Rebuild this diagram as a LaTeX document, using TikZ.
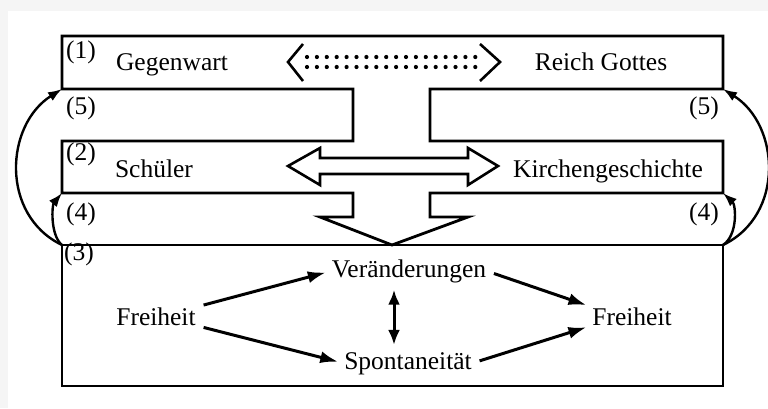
\documentclass[tikz,border=0pt]{standalone}
\usepackage{fontspec}
\setmainfont{Liberation Serif}
\usetikzlibrary{positioning,shapes,arrows.meta}

\begin{document}
\begin{tikzpicture}[x=1pt, y=-1pt, font=\fontsize{25.5}{30}\selectfont,
    txt/.style={inner sep=0pt, anchor=base},
    num/.style={inner sep=0pt, anchor=base west},
    numr/.style={inner sep=0pt, anchor=base east},
    frame/.style={line width=2.8pt, line join=miter},
    loop/.style={-{Latex[length=14pt,width=10pt]}, line width=2.4pt},
    rel/.style={-{Latex[length=18pt,width=12pt]}, line width=3pt, shorten <=8pt, shorten >=6pt},
    dots/.style={line width=4.2pt, line cap=round, dash pattern=on 0pt off 9.9pt}]
    \useasboundingbox (0,0) rectangle (768,408);
    \fill[gray!8] (0,0) rectangle (768,408);
    \fill[white] (8,11) rectangle (768,408);

    % the stacked bands (1), (5), (2), (4) with the channel and the down arrow
    \draw[frame] (62,36) -- (723,36) -- (723,89) -- (430,89) -- (430,141) -- (723,141)
        -- (723,193) -- (430,193) -- (430,217) -- (468,217) -- (392,245) -- (320,217)
        -- (353,217) -- (353,193) -- (62,193) -- (62,141) -- (353,141) -- (353,89)
        -- (62,89) -- cycle;
    % band (3)
    \draw[frame] (62,245) rectangle (723,386);

    \coordinate (A1) at (62,89);   \coordinate (B1) at (723,89);
    \coordinate (A2) at (62,193);  \coordinate (B2) at (723,193);
    \coordinate (A3) at (62,245);  \coordinate (B3) at (723,245);

    \node[num] (N1) at (66,58) {(1)};
    \node[num] (N5l) at (66,114) {(5)};
    \node[num] (N2) at (66,160) {(2)};
    \node[num] (N4l) at (66,220) {(4)};
    \node[num] (N3) at (64,260) {(3)};
    \node[numr] (N5r) at (719,114) {(5)};
    \node[numr] (N4r) at (719,220) {(4)};

    \node[txt] (Geg) at (172,70) {Gegenwart};
    \node[txt] (Rei) at (601,70) {Reich Gottes};
    \node[txt] (Sch) at (154,177) {Schüler};
    \node[txt] (Kir) at (608,177) {Kirchengeschichte};

    \node[txt] (Ver) at (409,277) {Veränderungen};
    \node[txt] (Spo) at (408,369) {Spontaneität};
    \node[txt] (FrL) at (156,325) {Freiheit};
    \node[txt] (FrR) at (632,325) {Freiheit};

    % dotted double arrow
    \coordinate (DL) at (288,62);
    \coordinate (DR) at (500,62);
    \draw[line width=2.6pt] ([shift={(15,-18)}]DL) -- (DL) -- ([shift={(15,19)}]DL);
    \draw[line width=2.6pt] ([shift={(-20,-18)}]DR) -- (DR) -- ([shift={(-20,19)}]DR);
    \draw[dots] ([shift={(19,-5)}]DL) -- ([shift={(-15,-5)}]DR);
    \draw[dots] ([shift={(19,5)}]DL) -- ([shift={(-15,5)}]DR);

    % hollow double arrow
    \coordinate (HL) at (288,166);
    \draw[frame, line width=2.6pt] (HL) -- ++(32,-18) -- ++(0,10) -- ++(148,0) -- ++(0,-10)
        -- ++(30,18) -- ++(-30,19) -- ++(0,-11) -- ++(-148,0) -- ++(0,11) -- cycle;

    % loops on both sides
    \draw[loop] (A3) .. controls +(-62,-30) and +(-57,36) .. (A1);
    \draw[loop] (A3) .. controls +(-12,-10) and +(-10,12) .. (A2);
    \draw[loop] (B3) .. controls +(62,-30) and +(57,36) .. (B1);
    \draw[loop] (B3) .. controls +(15,-10) and +(13,12) .. (B2);

    % relations in band (3)
    \draw[rel] (FrL.north east) -- (Ver.west);
    \draw[rel] (FrL.south east) -- (Spo.west);
    \draw[rel] (Ver.east) -- (FrR.north west);
    \draw[rel] (Spo.east) -- (FrR.south west);
    \draw[{Latex[length=15pt,width=12pt]}-{Latex[length=15pt,width=12pt]}, line width=3pt,
        shorten <=7pt, shorten >=7pt] ([xshift=-15pt]Ver.south) -- ([xshift=-14pt]Spo.north);
\end{tikzpicture}
\end{document}
